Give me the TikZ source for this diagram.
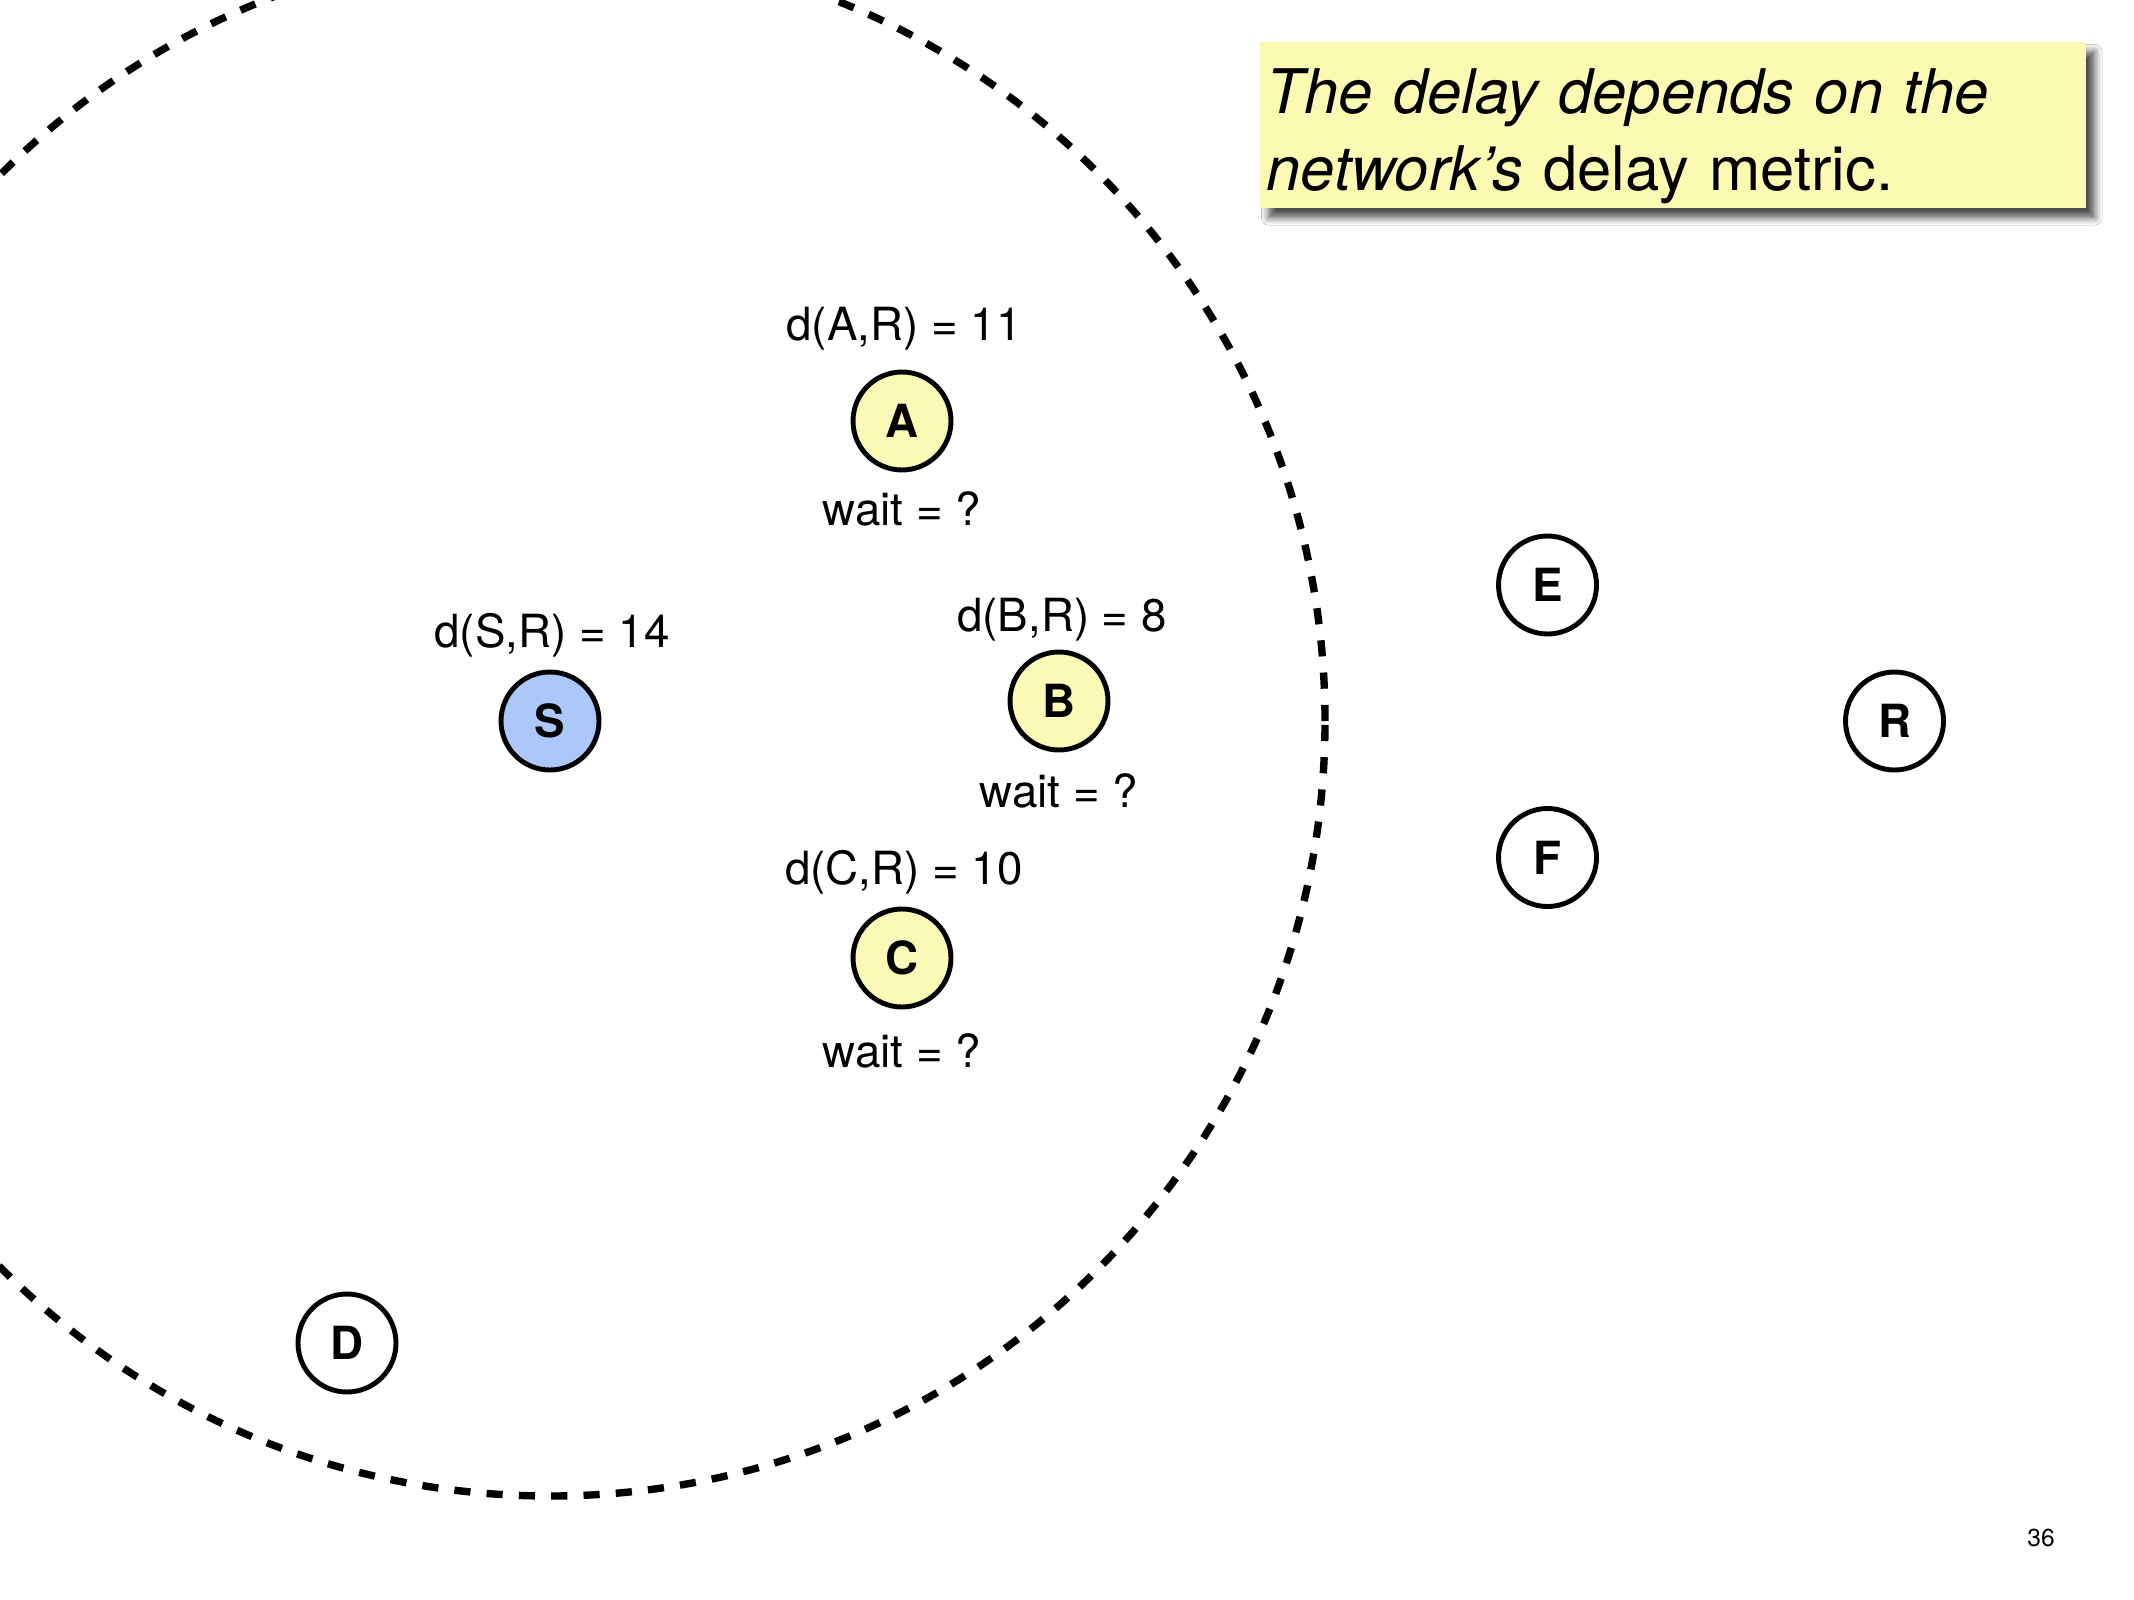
\documentclass[tikz,border=0pt]{standalone}
\usepackage{fontspec}
\setmainfont{TeX Gyre Heros}
\usetikzlibrary{shadows.blur}
\definecolor{srcblue}{RGB}{172,200,250}
\definecolor{relayyellow}{RGB}{250,250,182}
\definecolor{noteyellow}{RGB}{250,250,178}

\begin{document}
\begin{tikzpicture}[
  peer/.style={circle, draw, line width=1.4pt, minimum size=0.98cm, inner sep=0pt,
               font=\fontsize{13}{13}\selectfont\bfseries},
  src/.style={peer, fill=srcblue},
  relay/.style={peer, fill=relayyellow},
  lbl/.style={font=\fontsize{13}{15}\selectfont},
  reach/.style={line width=2.1pt, dash pattern=on 4.6pt off 4.6pt},
  note/.style={anchor=north west, fill=noteyellow, minimum width=8.26cm,
               text width=8.12cm, inner xsep=0.07cm, inner ysep=0pt, align=left,
               text height=0.72cm, text depth=0.94cm,
               font=\fontsize{17.5}{21.8}\selectfont,
               blur shadow={shadow xshift=0.09cm, shadow yshift=-0.1cm, shadow blur steps=6, shadow opacity=70}},
]
\clip (0,0) rectangle (21.34,-16);
\fill[white] (0,0) rectangle (21.34,-16);

% nodes
\node[src]   (S) at (5.50,-7.21)   {S};
\node[relay] (A) at (9.02,-4.21)   {A};
\node[relay] (B) at (10.59,-7.01)  {B};
\node[relay] (C) at (9.02,-9.58)   {C};
\node[peer]  (D) at (3.47,-13.43)  {D};
\node[peer]  (E) at (15.475,-5.85) {E};
\node[peer]  (F) at (15.475,-8.575){F};
\node[peer]  (R) at (18.945,-7.21) {R};

% broadcast range of S
\draw[reach] (S.center) circle (7.75);

% distances and waits
\node[lbl] (dS) at (5.52,-6.355)  {d(S,R) = 14};
\node[lbl] (dA) at (9.04,-3.29)   {d(A,R) = 11};
\node[lbl] (wA) at (9.02,-5.09)   {wait = ?};
\node[lbl] (dB) at (10.62,-6.20)  {d(B,R) = 8};
\node[lbl] (wB) at (10.59,-7.91)  {wait = ?};
\node[lbl] (dC) at (9.04,-8.72)   {d(C,R) = 10};
\node[lbl] (wC) at (9.02,-10.51)  {wait = ?};

\node[note] (note) at (12.59,-0.41)
  {\itshape The delay depends on the\\network’s\upshape{} delay metric.};

\node[font=\fontsize{7}{8}\selectfont] (page) at (20.41,-15.38) {36};
\end{tikzpicture}
\end{document}
